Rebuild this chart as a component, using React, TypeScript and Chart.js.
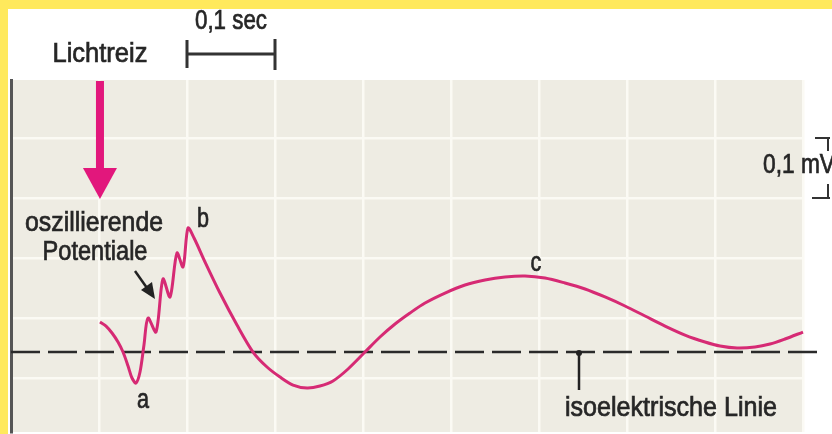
import React, { useEffect, useRef } from "react";
import { Chart, registerables } from "chart.js";

Chart.register(...registerables);

// ERG trace: time in seconds from the left edge of the panel, voltage in mV relative to the isoelectric line
const timeS = [
  0.1011, 0.108, 0.1148, 0.1216, 0.1273, 0.133, 0.1375, 0.142, 0.1466, 0.1511,
  0.1557, 0.1648, 0.1727, 0.1807, 0.1886, 0.1955, 0.2011, 0.208, 0.2205, 0.2375,
  0.2568, 0.275, 0.2909, 0.3057, 0.3205, 0.3364, 0.3511, 0.3659, 0.383, 0.4023,
  0.4193, 0.4364, 0.4534, 0.4705, 0.4932, 0.5159, 0.5386, 0.5614, 0.5841, 0.6068,
  0.6295, 0.6523, 0.675, 0.6977, 0.7205, 0.7432, 0.7659, 0.7886, 0.8057, 0.825,
  0.8455, 0.8625, 0.8795, 0.9,
];
const voltageMV = [
  0.05, 0.0433, 0.0317, 0.0167, 0.0, -0.0233, -0.0433, -0.0517, -0.0333, 0.0117,
  0.0567, 0.0333, 0.1217, 0.0917, 0.165, 0.1417, 0.2067, 0.19, 0.15, 0.0983,
  0.045, 0.0, -0.025, -0.0417, -0.055, -0.0600, -0.0567, -0.0483, -0.0283, 0.0,
  0.025, 0.0467, 0.065, 0.0817, 0.0983, 0.1117, 0.12, 0.125, 0.1267, 0.1233,
  0.115, 0.105, 0.0917, 0.0767, 0.06, 0.0433, 0.0283, 0.0167, 0.01, 0.0067,
  0.0083, 0.0133, 0.0217, 0.0333,
];
const baselineTimeS = [0, 0.9216];
const baselineMV = [0, 0];

const xTicksS = [0, 0.1, 0.2, 0.3, 0.4, 0.5, 0.6, 0.7, 0.8, 0.9];
const yTicksMV = [-0.0433, 0.0567, 0.1567, 0.2567, 0.3567];
const xRange = [0, 0.9];
const yRange = [-0.1333, 0.4533];

const stimulusLabel = "Lichtreiz";
const timeScaleLabel = "0,1 sec";
const voltScaleLabel = "0,1 mV";
const oscLabel = ["oszillierende", "Potentiale"];
const waveLabels = ["a", "b", "c"];
const isoLabel = "isoelektrische Linie";
const waveIndex = [7, 16, 38]; // index of a-trough, b-peak, c-peak

const FONT = '27px "Liberation Sans", Arial, sans-serif';
const TEXT = "#262626";
const PINK = "#d62a74";
const ARROW_PINK = "#e2177c";

function drawText(ctx: any, text: string, x: number, y: number, w: number | null, align: string) {
  const m = ctx.measureText(text).width;
  const s = w ? w / m : 0.8;
  ctx.save();
  ctx.translate(x, y);
  ctx.scale(s, 1);
  ctx.textAlign = align;
  ctx.lineWidth = 0.7;
  ctx.strokeStyle = TEXT;
  ctx.fillText(text, 0, 0);
  ctx.strokeText(text, 0, 0);
  ctx.restore();
}

const decorPlugin = {
  id: "decor",
  beforeDraw(chart: any) {
    const { ctx, chartArea, width, height } = chart;
    ctx.save();
    ctx.fillStyle = "#ffffff";
    ctx.fillRect(0, 0, width, height);
    ctx.fillStyle = "#eeece3";
    ctx.fillRect(chartArea.left, chartArea.top, chartArea.right - chartArea.left, chartArea.bottom - chartArea.top);
    ctx.restore();
  },
  afterDraw(chart: any) {
    const { ctx, width, height } = chart;
    const xs = chart.scales.x;
    const ys = chart.scales.y;
    const px = (v: number) => xs.getPixelForValue(v);
    const py = (v: number) => ys.getPixelForValue(v);
    ctx.save();

    // yellow frame
    ctx.fillStyle = "#ffe95c";
    ctx.fillRect(0, 0, width, 9);
    ctx.fillRect(0, 0, 8, height);

    ctx.font = FONT;
    ctx.fillStyle = TEXT;
    ctx.textBaseline = "middle";

    // time scale bar
    const x1 = px(0.2), x2 = px(0.3);
    drawText(ctx, timeScaleLabel, (x1 + x2) / 2, 22, 72, "center");
    ctx.strokeStyle = "#333";
    ctx.lineWidth = 3;
    ctx.beginPath();
    ctx.moveTo(x1, 54); ctx.lineTo(x2, 54);
    ctx.moveTo(x1, 40); ctx.lineTo(x1, 68);
    ctx.moveTo(x2, 39); ctx.lineTo(x2, 70);
    ctx.stroke();

    // stimulus
    const sx = px(timeS[0]);
    drawText(ctx, stimulusLabel, sx, 55, 95, "center");
    ctx.fillStyle = ARROW_PINK;
    ctx.fillRect(sx - 4, 81, 8, 90);
    ctx.beginPath();
    ctx.moveTo(sx - 17, 168); ctx.lineTo(sx + 17, 168); ctx.lineTo(sx, 199);
    ctx.closePath();
    ctx.fill();

    // oscillatory potentials label
    ctx.fillStyle = TEXT;
    drawText(ctx, oscLabel[0], 94, 224, 138, "center");
    drawText(ctx, oscLabel[1], 95, 253, 105, "center");
    // small black arrow
    ctx.strokeStyle = "#222";
    ctx.lineWidth = 2.5;
    ctx.beginPath();
    ctx.moveTo(135, 271); ctx.lineTo(147, 288);
    ctx.stroke();
    ctx.fillStyle = "#222";
    ctx.beginPath();
    ctx.moveTo(155, 299); ctx.lineTo(141, 290); ctx.lineTo(152, 282);
    ctx.closePath();
    ctx.fill();

    // wave letters
    ctx.fillStyle = TEXT;
    const offs = [[7, 18], [15, -8], [11, -12]];
    waveIndex.forEach((idx, i) => {
      drawText(ctx, waveLabels[i], px(timeS[idx]) + offs[i][0], py(voltageMV[idx]) + offs[i][1], null, "center");
    });

    // isoelectric line pointer
    const ix = 579;
    ctx.strokeStyle = "#222";
    ctx.lineWidth = 2.5;
    ctx.beginPath();
    ctx.moveTo(ix, py(0)); ctx.lineTo(ix, 390);
    ctx.stroke();
    ctx.beginPath();
    ctx.arc(ix, py(0) + 1, 3, 0, Math.PI * 2);
    ctx.fillStyle = "#222";
    ctx.fill();
    ctx.fillStyle = TEXT;
    drawText(ctx, isoLabel, 671, 409, 212, "center");

    // voltage scale
    drawText(ctx, voltScaleLabel, 763, 166, 72, "left");
    const yt = py(0.3567), yb = py(0.2567);
    ctx.strokeStyle = "#333";
    ctx.lineWidth = 2;
    ctx.beginPath();
    ctx.moveTo(815, yt); ctx.lineTo(830, yt);
    ctx.moveTo(828, yt); ctx.lineTo(828, yt + 13);
    ctx.moveTo(828, yb - 14); ctx.lineTo(828, yb);
    ctx.moveTo(812, yb); ctx.lineTo(830, yb);
    ctx.stroke();

    ctx.restore();
  },
};

export default function App() {
  const ref = useRef<HTMLCanvasElement | null>(null);
  useEffect(() => {
    if (!ref.current) return;
    const chart = new Chart(ref.current, {
      type: "line",
      data: {
        datasets: [
          {
            data: timeS.map((t, i) => ({ x: t, y: voltageMV[i] })),
            borderColor: PINK,
            borderWidth: 3,
            pointRadius: 0,
            tension: 0.3,
            order: 0,
            clip: false,
          },
          {
            data: baselineTimeS.map((t, i) => ({ x: t, y: baselineMV[i] })),
            borderColor: "#2a2a2a",
            borderWidth: 2.5,
            borderDash: [29, 8],
            pointRadius: 0,
            order: 1,
            clip: false,
          },
        ],
      },
      options: {
        animation: false,
        responsive: false,
        devicePixelRatio: 1,
        layout: { padding: { left: 11, top: 80, right: 29, bottom: 2 } },
        plugins: { legend: { display: false }, tooltip: { enabled: false } },
        scales: {
          x: {
            type: "linear",
            min: xRange[0],
            max: xRange[1],
            afterFit: (s: any) => { s.height = 0; },
            afterBuildTicks: (s: any) => { s.ticks = xTicksS.map((v) => ({ value: v })); },
            ticks: { display: false },
            grid: { color: "#fbfaf4", lineWidth: 2.5, drawTicks: false },
            border: { display: false },
          },
          y: {
            type: "linear",
            min: yRange[0],
            max: yRange[1],
            afterFit: (s: any) => { s.width = 0; },
            afterBuildTicks: (s: any) => { s.ticks = yTicksMV.map((v) => ({ value: v })); },
            ticks: { display: false },
            grid: { color: "#fbfaf4", lineWidth: 2.5, drawTicks: false },
            border: { display: true, color: "#555", width: 3 },
          },
        },
      },
      plugins: [decorPlugin],
    } as any);
    return () => chart.destroy();
  }, []);
  return (
    <div style={{ position: "fixed", left: 0, top: 0, width: 832, height: 434 }}>
      <canvas ref={ref} width={832} height={434} style={{ display: "block" }} />
    </div>
  );
}
